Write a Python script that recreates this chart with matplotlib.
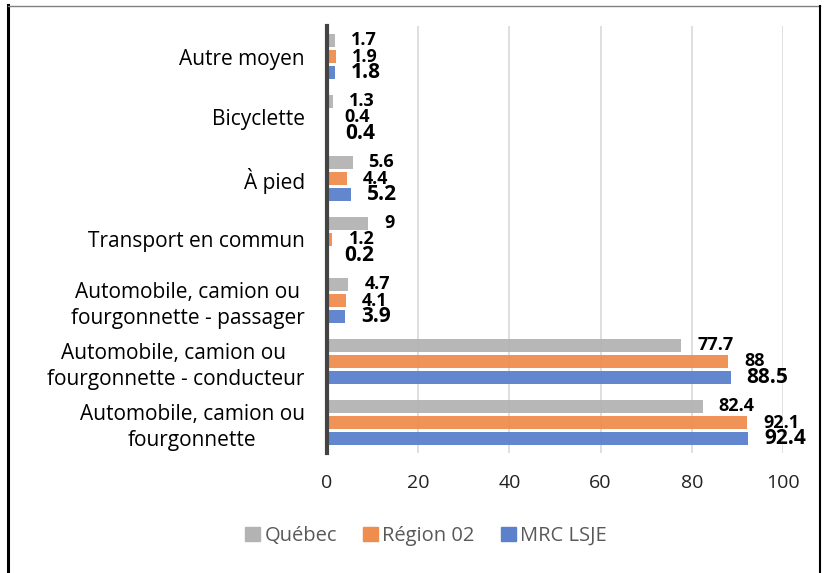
import numpy as np
import matplotlib.pyplot as plt
from matplotlib.patches import Patch
from matplotlib.lines import Line2D

plt.rcParams['font.family'] = ['Open Sans', 'DejaVu Sans']

# donnees (de bas en haut)
categories = ['Automobile, camion ou\nfourgonnette',
              'Automobile, camion ou \nfourgonnette - conducteur',
              'Automobile, camion ou\nfourgonnette - passager',
              'Transport en commun',
              'À pied',
              'Bicyclette',
              'Autre moyen']
series = ['Québec', 'Région 02', 'MRC LSJE']
quebec = [82.4, 77.7, 4.7, 9, 5.6, 1.3, 1.7]
region02 = [92.1, 88, 4.1, 1.2, 4.4, 0.4, 1.9]
mrc = [92.4, 88.5, 3.9, 0.2, 5.2, 0.4, 1.8]

colors = ['#b3b3b3', '#ef8d4f', '#5b81cc']
label_sizes = [13, 13, 15]

fig = plt.figure(figsize=(8.25, 5.73), dpi=100)
ax = fig.add_axes([327/825, 1-453/573, (783-327)/825, (453-26)/573])

y = np.arange(len(categories))
pitch = 0.265
h = 0.21
for k, (vals, col, fs) in enumerate(zip([quebec, region02, mrc], colors, label_sizes)):
    pos = y + pitch * (1 - k)
    ax.barh(pos, vals, height=h, color=col, alpha=0.95, zorder=2)
    for p, v in zip(pos, vals):
        ax.annotate(f'{v:g}', (v, p), xytext=(11.5, 0), textcoords='offset points',
                    ha='left', va='center', fontsize=fs, fontweight='bold',
                    color='black', annotation_clip=False)

ax.set_xlim(0, 100)
ax.set_ylim(-0.5, len(categories) - 0.5)
ax.set_xticks([0, 20, 40, 60, 80, 100])
ax.set_yticks(y)
ax.set_yticklabels(categories, fontsize=15, multialignment='center', linespacing=1.3)
ax.tick_params(axis='x', length=0, pad=15, labelsize=14, labelcolor='#222222')
ax.tick_params(axis='y', length=0, pad=16)
ax.grid(axis='x', color='#d9d9d9', lw=1.2, zorder=1)
ax.set_axisbelow(True)
for s in ['top', 'right', 'bottom']:
    ax.spines[s].set_visible(False)
ax.spines['left'].set_color('#444444')
ax.spines['left'].set_linewidth(3)
ax.spines['left'].set_zorder(3)

handles = [Patch(color=c) for c in colors]
leg = fig.legend(handles, series, loc='center', bbox_to_anchor=(426/825, 1-536/573),
                 ncol=3, frameon=False, fontsize=14.5, handlelength=0.75, handleheight=0.75,
                 handletextpad=0.2, columnspacing=1.3)
for t in leg.get_texts():
    t.set_color('#595959')

# cadre
fig.add_artist(Line2D([8/825, 8/825], [0, 1-5/573], color='black', lw=2.2))
fig.add_artist(Line2D([8/825, 820/825], [1-6/573, 1-6/573], color='#808080', lw=1))
fig.add_artist(Line2D([820/825, 820/825], [0, 1-6/573], color='black', lw=1.5))

fig.savefig('out.png', dpi=100)
